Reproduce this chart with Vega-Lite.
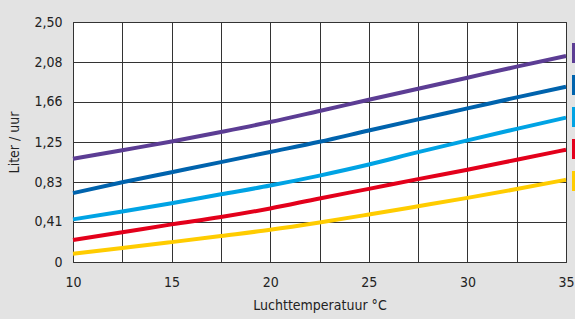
{
  "$schema": "https://vega.github.io/schema/vega-lite/v6.json",
  "width": 493,
  "height": 240,
  "autosize": "none",
  "padding": {"left": 73, "top": 22, "right": 9, "bottom": 57},
  "background": "#e3e3e3",
  "config": {
    "view": {"fill": "white", "stroke": "#222", "strokeWidth": 1},
    "font": "DejaVu Sans Condensed, Roboto, sans-serif"
  },
  "data": {
    "values": [
      {"t": 10, "v": 1.075, "s": "s1"}, {"t": 12.5, "v": 1.165, "s": "s1"}, {"t": 15, "v": 1.255, "s": "s1"}, {"t": 17.5, "v": 1.354, "s": "s1"}, {"t": 20, "v": 1.458, "s": "s1"}, {"t": 22.5, "v": 1.573, "s": "s1"}, {"t": 25, "v": 1.69, "s": "s1"}, {"t": 27.5, "v": 1.805, "s": "s1"}, {"t": 30, "v": 1.92, "s": "s1"}, {"t": 32.5, "v": 2.035, "s": "s1"}, {"t": 35, "v": 2.145, "s": "s1"},
      {"t": 10, "v": 0.717, "s": "s2"}, {"t": 12.5, "v": 0.83, "s": "s2"}, {"t": 15, "v": 0.935, "s": "s2"}, {"t": 17.5, "v": 1.04, "s": "s2"}, {"t": 20, "v": 1.146, "s": "s2"}, {"t": 22.5, "v": 1.252, "s": "s2"}, {"t": 25, "v": 1.37, "s": "s2"}, {"t": 27.5, "v": 1.486, "s": "s2"}, {"t": 30, "v": 1.6, "s": "s2"}, {"t": 32.5, "v": 1.715, "s": "s2"}, {"t": 35, "v": 1.826, "s": "s2"},
      {"t": 10, "v": 0.444, "s": "s3"}, {"t": 12.5, "v": 0.525, "s": "s3"}, {"t": 15, "v": 0.612, "s": "s3"}, {"t": 17.5, "v": 0.705, "s": "s3"}, {"t": 20, "v": 0.797, "s": "s3"}, {"t": 22.5, "v": 0.9, "s": "s3"}, {"t": 25, "v": 1.015, "s": "s3"}, {"t": 27.5, "v": 1.145, "s": "s3"}, {"t": 30, "v": 1.267, "s": "s3"}, {"t": 32.5, "v": 1.387, "s": "s3"}, {"t": 35, "v": 1.504, "s": "s3"},
      {"t": 10, "v": 0.23, "s": "s4"}, {"t": 12.5, "v": 0.31, "s": "s4"}, {"t": 15, "v": 0.392, "s": "s4"}, {"t": 17.5, "v": 0.468, "s": "s4"}, {"t": 20, "v": 0.558, "s": "s4"}, {"t": 22.5, "v": 0.662, "s": "s4"}, {"t": 25, "v": 0.762, "s": "s4"}, {"t": 27.5, "v": 0.863, "s": "s4"}, {"t": 30, "v": 0.961, "s": "s4"}, {"t": 32.5, "v": 1.065, "s": "s4"}, {"t": 35, "v": 1.17, "s": "s4"},
      {"t": 10, "v": 0.087, "s": "s5"}, {"t": 12.5, "v": 0.145, "s": "s5"}, {"t": 15, "v": 0.207, "s": "s5"}, {"t": 17.5, "v": 0.271, "s": "s5"}, {"t": 20, "v": 0.336, "s": "s5"}, {"t": 22.5, "v": 0.412, "s": "s5"}, {"t": 25, "v": 0.495, "s": "s5"}, {"t": 27.5, "v": 0.581, "s": "s5"}, {"t": 30, "v": 0.668, "s": "s5"}, {"t": 32.5, "v": 0.76, "s": "s5"}, {"t": 35, "v": 0.857, "s": "s5"}
    ]
  },
  "mark": {"type": "line", "strokeWidth": 4, "interpolate": "monotone", "strokeCap": "butt"},
  "encoding": {
    "x": {
      "field": "t", "type": "quantitative",
      "scale": {"domain": [10, 35], "nice": false, "zero": false},
      "axis": {
        "values": [10, 12.5, 15, 17.5, 20, 22.5, 25, 27.5, 30, 32.5, 35],
        "labelExpr": "datum.value % 5 == 0 ? datum.label : ''",
        "labelFlush": false,
        "title": "Luchttemperatuur °C",
        "titleFontSize": 14, "titleFontWeight": "normal", "titleColor": "#222", "titlePadding": 9,
        "labelFontSize": 14, "labelColor": "#222", "labelPadding": 13,
        "ticks": false, "domain": false,
        "grid": true, "gridColor": "#333", "gridOpacity": 1, "gridWidth": 1
      }
    },
    "y": {
      "field": "v", "type": "quantitative",
      "scale": {"domain": [0, 2.5], "nice": false},
      "axis": {
        "values": [0, 0.41667, 0.83333, 1.25, 1.66667, 2.08333, 2.5],
        "labelExpr": "['0','0,41','0,83','1,25','1,66','2,08','2,50'][round(datum.value*6/2.5)]",
        "labelFlush": false,
        "title": "Liter / uur",
        "titleFontSize": 14, "titleFontWeight": "normal", "titleColor": "#222", "titlePadding": 12,
        "labelFontSize": 14, "labelColor": "#222", "labelPadding": 11,
        "ticks": false, "domain": false,
        "grid": true, "gridColor": "#333", "gridOpacity": 1, "gridWidth": 1
      }
    },
    "color": {
      "field": "s", "type": "nominal",
      "scale": {"domain": ["s1", "s2", "s3", "s4", "s5"], "range": ["#5c3d94", "#0063ad", "#00a3e4", "#e3001b", "#ffcc00"]},
      "legend": {
        "orient": "none", "legendX": 499, "legendY": 21,
        "title": null, "symbolType": "square", "symbolSize": 400, "symbolStrokeWidth": 0,
        "symbolOpacity": 1, "rowPadding": 12, "labelExpr": "''", "padding": 0,
        "encode": {"symbols": {"update": {"fill": {"scale": "color", "field": "value"}, "fillOpacity": {"value": 1}, "opacity": {"value": 1}}}}
      }
    }
  }
}
